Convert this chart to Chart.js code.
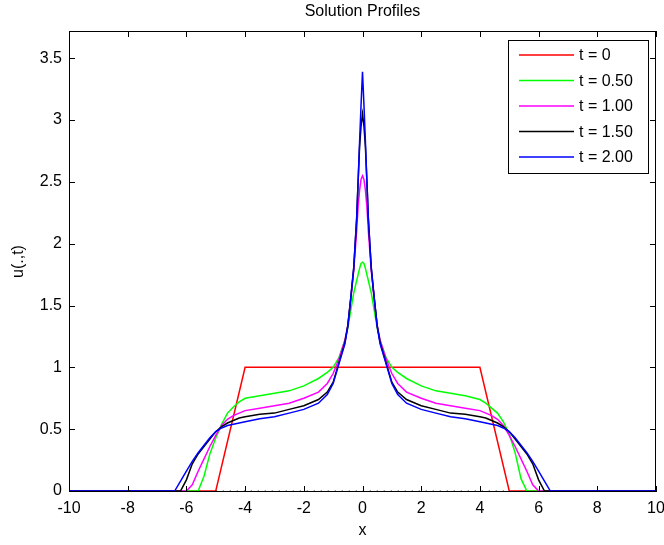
<!DOCTYPE html>
<html>
<head>
<meta charset="utf-8">
<script src="https://cdn.jsdelivr.net/npm/chart.js@4.4.1/dist/chart.umd.min.js"></script>
<style>
  html, body { margin: 0; padding: 0; background: #fff; }
  #wrap { width: 664px; height: 545px; }
</style>
</head>
<body>
<div id="wrap"><canvas id="chart" width="664" height="545"></canvas></div>
<script>
// Tick values
const xTicks = [-10, -8, -6, -4, -2, 0, 2, 4, 6, 8, 10];
const yTicks = [0, 0.5, 1, 1.5, 2, 2.5, 3, 3.5];

// Initial profile (t = 0)
const xInit = [-10, -5, -4, 4, 5, 10];
const uInit = [0, 0, 1, 1, 0, 0];

// Sample points for the evolved profiles
const xGrid = [
  -10, -6.4, -6.2, -6.0, -5.8, -5.6, -5.4, -5.2, -5.0, -4.8, -4.6, -4.4, -4.2, -4.0,
  -3.5, -3.0, -2.5, -2.0, -1.5, -1.2, -1.0, -0.8, -0.6, -0.5, -0.4, -0.3, -0.2, -0.15, -0.1, -0.05,
  0,
  0.05, 0.1, 0.15, 0.2, 0.3, 0.4, 0.5, 0.6, 0.8, 1.0, 1.2, 1.5, 2.0, 2.5, 3.0, 3.5,
  4.0, 4.2, 4.4, 4.6, 4.8, 5.0, 5.2, 5.4, 5.6, 5.8, 6.0, 6.2, 6.4, 10,
];
const uT050 = [
  0, 0, 0, 0, 0, 0, 0.12, 0.30, 0.43, 0.54, 0.63, 0.68, 0.72, 0.75,
  0.77, 0.79, 0.81, 0.85, 0.91, 0.96, 1.0, 1.08, 1.22, 1.32, 1.46, 1.6, 1.7, 1.75, 1.8, 1.84,
  1.85,
  1.84, 1.8, 1.75, 1.7, 1.6, 1.46, 1.32, 1.22, 1.08, 1.0, 0.96, 0.91, 0.85, 0.81, 0.79, 0.77,
  0.74, 0.71, 0.67, 0.63, 0.56, 0.46, 0.31, 0.10, 0, 0, 0, 0, 0, 0,
];
const uT100 = [
  0, 0, 0, 0, 0.05, 0.16, 0.26, 0.36, 0.45, 0.53, 0.58, 0.61, 0.63, 0.65,
  0.67, 0.69, 0.71, 0.75, 0.80, 0.87, 0.95, 1.07, 1.22, 1.34, 1.55, 1.78, 2.1, 2.3, 2.43, 2.52,
  2.55,
  2.52, 2.43, 2.3, 2.1, 1.78, 1.55, 1.34, 1.22, 1.07, 0.95, 0.87, 0.80, 0.75, 0.71, 0.69, 0.67,
  0.65, 0.63, 0.61, 0.58, 0.53, 0.45, 0.36, 0.26, 0.16, 0.05, 0, 0, 0, 0,
];
const uT150 = [
  0, 0, 0, 0.09, 0.22, 0.30, 0.36, 0.42, 0.48, 0.52, 0.55, 0.57, 0.59, 0.60,
  0.62, 0.63, 0.66, 0.69, 0.74, 0.80, 0.88, 1.04, 1.2, 1.34, 1.56, 1.8, 2.2, 2.5, 2.78, 2.95,
  3.05,
  2.95, 2.78, 2.5, 2.2, 1.8, 1.56, 1.34, 1.2, 1.04, 0.88, 0.80, 0.74, 0.69, 0.66, 0.63, 0.62,
  0.60, 0.59, 0.57, 0.55, 0.52, 0.48, 0.42, 0.36, 0.30, 0.22, 0.09, 0, 0, 0,
];
const uT200 = [
  0, 0, 0.08, 0.16, 0.24, 0.31, 0.37, 0.43, 0.48, 0.51, 0.53, 0.54, 0.55, 0.56,
  0.585, 0.60, 0.63, 0.66, 0.71, 0.78, 0.87, 1.03, 1.19, 1.33, 1.56, 1.8, 2.2, 2.5, 2.82, 3.12,
  3.39,
  3.12, 2.82, 2.5, 2.2, 1.8, 1.56, 1.33, 1.19, 1.03, 0.87, 0.78, 0.71, 0.66, 0.63, 0.60, 0.585,
  0.56, 0.55, 0.54, 0.53, 0.51, 0.48, 0.43, 0.37, 0.31, 0.24, 0.16, 0.08, 0, 0,
];

// dotted baseline under the support of u0
const xBase = [-5, 5];
const uBase = [0, 0];

const seriesLabels = ['t = 0', 't = 0.50', 't = 1.00', 't = 1.50', 't = 2.00'];
const seriesColors = ['#ff0000', '#00ff00', '#ff00ff', '#000000', '#0000ff'];

const FONT = '"Liberation Sans", Arial, Helvetica, sans-serif';
const TICK = 6;

const toPoints = (xs, ys) => xs.map((x, i) => ({ x, y: ys[i] }));

const line = (label, data, color, order) => ({
  label,
  data,
  borderColor: color,
  backgroundColor: color,
  borderWidth: 1.5,
  pointRadius: 0,
  tension: 0,
  fill: false,
  order,
});

// MATLAB style box with inward ticks, title and legend
const matlabAxes = {
  id: 'matlabAxes',
  afterDatasetsDraw(chart) {
    const { ctx, chartArea: a, scales: { x, y } } = chart;
    ctx.save();
    ctx.strokeStyle = '#000';
    ctx.lineWidth = 1;
    ctx.beginPath();
    xTicks.forEach((v) => {
      const px = Math.round(x.getPixelForValue(v)) + 0.5;
      ctx.moveTo(px, a.bottom);
      ctx.lineTo(px, a.bottom - TICK);
      ctx.moveTo(px, a.top);
      ctx.lineTo(px, a.top + TICK);
    });
    yTicks.forEach((v) => {
      const py = Math.round(y.getPixelForValue(v)) + 0.5;
      ctx.moveTo(a.left, py);
      ctx.lineTo(a.left + TICK, py);
      ctx.moveTo(a.right, py);
      ctx.lineTo(a.right - TICK, py);
    });
    ctx.stroke();
    ctx.strokeRect(a.left + 0.5, a.top + 0.5, a.right - a.left - 1, a.bottom - a.top - 1);
    ctx.restore();
  },
  afterDraw(chart) {
    const { ctx, chartArea: a } = chart;
    ctx.save();
    ctx.fillStyle = '#000';
    ctx.font = '16px ' + FONT;
    ctx.textAlign = 'center';
    ctx.textBaseline = 'middle';
    ctx.fillText('Solution Profiles', (a.left + a.right) / 2, 12);

    // legend box
    const bx = 508, by = 40, bw = 140, bh = 133;
    ctx.fillStyle = '#fff';
    ctx.fillRect(bx, by, bw, bh);
    ctx.strokeStyle = '#000';
    ctx.lineWidth = 1;
    ctx.strokeRect(bx + 0.5, by + 0.5, bw, bh);
    ctx.textAlign = 'left';
    seriesLabels.forEach((lab, i) => {
      const ry = 55 + i * 25.5;
      ctx.strokeStyle = seriesColors[i];
      ctx.lineWidth = 1.5;
      ctx.beginPath();
      ctx.moveTo(519, ry);
      ctx.lineTo(574, ry);
      ctx.stroke();
      ctx.fillStyle = '#000';
      ctx.fillText(lab, 579, ry + 1);
    });
    ctx.restore();
  },
};

const ctx = document.getElementById('chart');

new Chart(ctx, {
  type: 'line',
  data: {
    datasets: [
      line(seriesLabels[0], toPoints(xInit, uInit), seriesColors[0], 5),
      line(seriesLabels[1], toPoints(xGrid, uT050), seriesColors[1], 4),
      line(seriesLabels[2], toPoints(xGrid, uT100), seriesColors[2], 3),
      line(seriesLabels[3], toPoints(xGrid, uT150), seriesColors[3], 2),
      line(seriesLabels[4], toPoints(xGrid, uT200), seriesColors[4], 1),
      {
        label: 'base',
        data: toPoints(xBase, uBase),
        borderColor: '#000',
        borderWidth: 1,
        borderDash: [1, 6],
        pointRadius: 0,
        fill: false,
        order: 0,
      },
    ],
  },
  options: {
    responsive: false,
    animation: false,
    layout: {
      padding: { top: 31, right: 8, left: 0, bottom: 0 },
    },
    scales: {
      x: {
        type: 'linear',
        min: -10,
        max: 10,
        afterBuildTicks: (s) => { s.ticks = xTicks.map((v) => ({ value: v })); },
        afterFit: (s) => { s.height = 53; s.paddingLeft = 0; s.paddingRight = 0; },
        grid: { display: false, drawTicks: false },
        border: { display: false },
        ticks: {
          color: '#000',
          font: { family: FONT, size: 16 },
          padding: 7,
          autoSkip: false,
          maxRotation: 0,
        },
        title: {
          display: true,
          text: 'x',
          color: '#000',
          font: { family: FONT, size: 16 },
          padding: { top: 0, bottom: 5 },
        },
      },
      y: {
        type: 'linear',
        min: -0.008,
        max: 3.72,
        afterBuildTicks: (s) => { s.ticks = yTicks.map((v) => ({ value: v })); },
        afterFit: (s) => { s.width = 69; s.paddingTop = 0; s.paddingBottom = 0; },
        grid: { display: false, drawTicks: false },
        border: { display: false },
        ticks: {
          color: '#000',
          font: { family: FONT, size: 16 },
          padding: 7,
          autoSkip: false,
          callback: (v) => String(v),
        },
        title: {
          display: true,
          text: 'u(.,t)',
          color: '#000',
          font: { family: FONT, size: 16 },
          padding: { top: 9, bottom: 0 },
        },
      },
    },
    plugins: {
      legend: { display: false },
      tooltip: { enabled: false },
      title: { display: false },
    },
  },
  plugins: [matlabAxes],
});
</script>
</body>
</html>
